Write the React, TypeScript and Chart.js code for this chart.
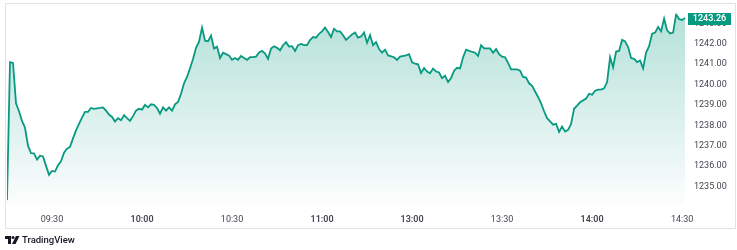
import React, { useEffect, useRef } from "react";
import { Chart, registerables } from "chart.js";

Chart.register(...registerables);

// minutes from the 09:15 open, with the lunch break (11:30-13:00) removed
const minutes = [
  0, 1, 2, 3, 4, 5, 6, 7, 8, 9, 10, 11, 12, 13, 14, 15, 16, 17, 18, 19, 20, 21, 22, 23, 24, 25, 26, 27, 28, 29,
  31, 32, 33, 34, 35, 36, 37, 38, 39, 40, 41, 42, 43, 44, 45, 46, 47, 48, 49, 50, 51, 52, 53, 54, 55, 56, 57, 58, 59,
  60, 61, 62, 63, 64, 65, 66, 67, 68, 69, 70, 71, 72, 73, 74, 75, 76, 77, 78, 79, 80, 81, 82, 83, 84, 85, 86, 87, 88, 89,
  90, 91, 92, 93, 94, 95, 96, 97, 98, 99, 100, 101, 102, 103, 104, 105, 106, 107, 108, 109, 110, 111, 112, 113,
  115, 116, 117, 118, 119, 120, 121, 122, 123, 124, 125, 126, 127, 129, 130, 131, 133, 134, 135, 136, 137, 138, 139,
  140, 141, 142, 143, 144, 145, 146, 147, 148, 149, 150, 151, 152, 153, 154, 156, 157, 158, 159, 160, 161, 162, 163,
  164, 165, 166, 167, 168, 169, 170, 171, 172, 173, 174, 175, 176, 177, 178, 179, 180, 181, 182, 183, 184, 185, 186,
  187, 188, 189, 190, 191, 193, 194, 195, 196, 197, 198, 199, 200, 201, 202, 203, 204, 205, 206, 207, 208, 209, 210,
  211, 212, 213, 214, 215, 216, 217, 218, 219, 220, 221, 222, 223, 224, 225, 226,
];

const prices = [
  1234.33, 1241.1, 1241.06, 1239.08, 1238.69, 1238.22, 1237.88, 1237.0, 1236.63, 1236.62, 1236.32, 1236.51, 1236.47,
  1236.01, 1235.57, 1235.76, 1235.73, 1236.04, 1236.23, 1236.66, 1236.85, 1236.94, 1237.36, 1237.75, 1238.07, 1238.38,
  1238.66, 1238.66, 1238.85, 1238.81,
  1238.85, 1238.88, 1238.72, 1238.53, 1238.41, 1238.19, 1238.35, 1238.25, 1238.5, 1238.35, 1238.22, 1238.45, 1238.72,
  1238.81, 1238.77, 1239.0, 1238.88, 1239.03, 1239.0, 1238.85, 1238.57, 1238.88, 1238.72, 1238.88, 1238.72, 1239.03,
  1239.15, 1239.55, 1240.06,
  1240.37, 1240.8, 1241.25, 1241.8, 1242.1, 1242.79, 1242.15, 1242.12, 1242.4, 1241.77, 1241.86, 1241.3, 1241.56,
  1241.49, 1241.42, 1241.21, 1241.3, 1241.21, 1241.4, 1241.3, 1241.21, 1241.34, 1241.34, 1241.37, 1241.57, 1241.65,
  1241.52, 1241.26, 1241.77, 1241.88,
  1241.8, 1241.68, 1241.93, 1242.08, 1241.86, 1241.88, 1241.65, 1241.93, 1241.99, 1241.93, 1241.93, 1242.18, 1242.33,
  1242.3, 1242.49, 1242.61, 1242.8, 1242.58, 1242.33, 1242.74, 1242.61, 1242.61, 1242.42, 1242.19,
  1242.46, 1242.55, 1242.3, 1242.36, 1242.55, 1242.05, 1242.43, 1241.93, 1242.08, 1241.74, 1241.56, 1241.71, 1241.43,
  1241.34, 1241.21, 1241.37, 1241.43, 1241.49, 1241.09, 1241.02, 1240.99, 1240.56, 1240.81,
  1240.64, 1240.55, 1240.78, 1240.64, 1240.59, 1240.31, 1240.43, 1240.12, 1240.32, 1240.68, 1240.82, 1240.79, 1241.34,
  1241.71, 1241.65, 1241.56, 1241.4, 1241.93, 1241.77, 1241.77, 1241.77, 1241.56, 1241.74,
  1241.49, 1241.37, 1241.34, 1241.06, 1240.74, 1240.74, 1240.74, 1240.68, 1240.37, 1240.34, 1240.06, 1239.94, 1239.66,
  1239.39, 1239.08, 1238.69, 1238.35, 1238.19, 1238.03, 1238.07, 1237.68, 1237.94, 1237.69,
  1237.78, 1238.07, 1238.81, 1238.97, 1239.13, 1239.31, 1239.55, 1239.5, 1239.7, 1239.75, 1239.75, 1239.81, 1240.12,
  1241.34, 1240.84, 1241.62, 1241.65, 1242.19, 1242.12, 1241.84, 1241.3, 1241.26, 1241.1,
  1241.18, 1240.79, 1241.57, 1241.88, 1242.49, 1242.55, 1242.82, 1242.61, 1243.24, 1242.66, 1242.51, 1242.55, 1243.44,
  1243.21, 1243.17, 1243.26,
];

const timeTickMinutes = [15, 45, 75, 105, 135, 165, 195, 225];
const timeTickLabels = ["09:30", "10:00", "10:30", "11:00", "13:00", "13:30", "14:00", "14:30"];
const boldTimeLabels = ["10:00", "11:00", "13:00", "14:00"];
const priceTicks = [1235, 1236, 1237, 1238, 1239, 1240, 1241, 1242, 1243];
const lastPrice = 1243.26;
const priceMin = 1234.09;
const priceMax = 1243.49;
const minuteMax = 226.3;

const GREEN = "#089981";
const FONT = "Roboto, 'Noto Sans', sans-serif";

export default function App() {
  const ref = useRef<HTMLCanvasElement | null>(null);

  useEffect(() => {
    const canvas = ref.current;
    if (!canvas) return;

    const decor = {
      id: "decor",
      afterDraw(chart: any) {
        const ctx = chart.ctx;
        const y = chart.scales.y;
        ctx.save();
        // frame
        ctx.strokeStyle = "#e0e3eb";
        ctx.lineWidth = 1;
        ctx.strokeRect(5.5, 3.5, 730, 225);
        // last price label
        const py = y.getPixelForValue(lastPrice);
        ctx.fillStyle = GREEN;
        ctx.fillRect(688, Math.round(py - 5.5), 43, 12);
        ctx.fillStyle = "#ffffff";
        ctx.font = `600 9px ${FONT}`;
        ctx.textAlign = "center";
        ctx.textBaseline = "middle";
        ctx.fillText(lastPrice.toFixed(2), 709.5, py + 0.5);
        // logo
        ctx.fillStyle = "#131722";
        ctx.fillRect(5, 236, 6, 3);
        ctx.fillRect(8, 236, 3, 8);
        ctx.beginPath();
        ctx.arc(13, 237.5, 1.5, 0, Math.PI * 2);
        ctx.fill();
        ctx.beginPath();
        ctx.moveTo(16, 236);
        ctx.lineTo(19.5, 236);
        ctx.lineTo(15.5, 244);
        ctx.lineTo(12, 244);
        ctx.closePath();
        ctx.fill();
        ctx.font = `500 9.5px ${FONT}`;
        ctx.textAlign = "left";
        ctx.fillText("TradingView", 22, 240.5);
        ctx.restore();
      },
    };

    const chart = new Chart(canvas, {
      type: "line",
      data: {
        datasets: [
          {
            data: minutes.map((m, i) => ({ x: m, y: prices[i] })),
            borderColor: GREEN,
            borderWidth: 1.8,
            pointRadius: 0,
            tension: 0,
            fill: "start",
            backgroundColor: (c: any) => {
              const area = c.chart.chartArea;
              if (!area) return "rgba(8,153,129,0.2)";
              const g = c.chart.ctx.createLinearGradient(0, area.top, 0, area.bottom);
              g.addColorStop(0, "rgba(8,153,129,0.30)");
              g.addColorStop(1, "rgba(8,153,129,0.01)");
              return g;
            },
          },
        ],
      },
      options: {
        animation: false,
        responsive: false,
        devicePixelRatio: 1,
        layout: { padding: { left: 7, top: 4, right: 0, bottom: 0 } },
        plugins: { legend: { display: false }, tooltip: { enabled: false } },
        scales: {
          x: {
            type: "linear",
            min: 0,
            max: minuteMax,
            grid: { display: false, drawTicks: false },
            border: { display: false },
            afterBuildTicks: (s: any) => {
              s.ticks = timeTickMinutes.map((v) => ({ value: v }));
            },
            afterFit: (s: any) => {
              s.height = 45;
            },
            ticks: {
              autoSkip: false,
              maxRotation: 0,
              padding: 9,
              color: "#434651",
              font: (c: any) => {
                const idx = timeTickMinutes.indexOf(c.tick?.value);
                const lbl = timeTickLabels[idx];
                return {
                  family: FONT,
                  size: 9,
                  weight: boldTimeLabels.includes(lbl) ? "600" : "400",
                };
              },
              callback: (v: any) => timeTickLabels[timeTickMinutes.indexOf(v)] ?? "",
            },
          },
          y: {
            type: "linear",
            position: "right",
            min: priceMin,
            max: priceMax,
            grid: { display: false, drawTicks: false },
            border: { display: false },
            afterBuildTicks: (s: any) => {
              s.ticks = priceTicks.map((v) => ({ value: v }));
            },
            afterFit: (s: any) => {
              s.width = 51;
            },
            ticks: {
              padding: 8,
              color: "#434651",
              font: { family: FONT, size: 9 },
              callback: (v: any) => Number(v).toFixed(2),
            },
          },
        },
      },
      plugins: [decor],
    });

    return () => chart.destroy();
  }, []);

  return (
    <div style={{ position: "fixed", left: 0, top: 0, width: 737, height: 250, background: "#ffffff" }}>
      <canvas ref={ref} width={737} height={250} style={{ width: 737, height: 250, display: "block" }} />
    </div>
  );
}
